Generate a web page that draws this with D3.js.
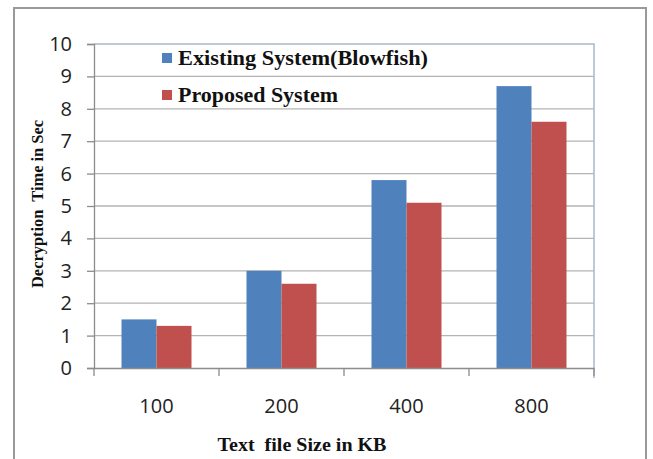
<!DOCTYPE html>
<html><head><meta charset="utf-8">
<script src="https://cdn.jsdelivr.net/npm/d3@7"></script>
<style>body{margin:0;background:#fff}svg{display:block}</style>
</head><body>
<svg id="c" width="653" height="459"></svg>
<script>
const categories = ["100", "200", "400", "800"];
const seriesNames = ["Existing System(Blowfish)", "Proposed System"];
const existing = [1.5, 3.0, 5.8, 8.7];
const proposed = [1.3, 2.6, 5.1, 7.6];
const yTicks = [0,1,2,3,4,5,6,7,8,9,10];
const colors = ["#4F81BD", "#C0504D"];

const svg = d3.select("#c");
const m = {l:94, r:594, t:44, b:368};
const sans = "'Open Sans', Carlito, 'Liberation Sans', sans-serif";
const serif = "'Liberation Serif', 'DejaVu Serif', serif";

// outer frame
svg.append("rect").attr("x",14).attr("y",8).attr("width",632).attr("height",470)
  .attr("fill","#fff").attr("stroke","#9a9a9a").attr("stroke-width",2);

const x = d3.scaleBand().domain(categories).range([m.l, m.r]).paddingInner(0.44).paddingOuter(0.22);
const y = d3.scaleLinear().domain([0,10]).range([m.b, m.t]);
const x1 = d3.scaleBand().domain([0,1]).range([0, x.bandwidth()]);

// gridlines
svg.append("g").selectAll("line").data(yTicks.filter(d=>d>0 && d<10)).join("line")
  .attr("x1", m.l).attr("x2", m.r).attr("y1", d=>y(d)).attr("y2", d=>y(d))
  .attr("stroke","#b4b4b4").attr("stroke-width",1.3);

// plot border top/right
svg.append("path").attr("d",`M${m.l},${m.t}H${m.r}V${m.b+10}`)
  .attr("fill","none").attr("stroke","#a9b8cc").attr("stroke-width",1.5);

// bars
const data = categories.map((c,i)=>({c, v:[existing[i], proposed[i]]}));
const g = svg.append("g");
data.forEach(d=>{
  d.v.forEach((v,j)=>{
    g.append("rect").attr("x", x(d.c)+x1(j)).attr("width", x1.bandwidth())
      .attr("y", y(v)).attr("height", y(0)-y(v)).attr("fill", colors[j]);
  });
});

// y axis
const yAxis = d3.axisLeft(y).tickValues(yTicks).tickSize(7).tickPadding(15);
const ya = svg.append("g").attr("transform",`translate(${m.l},0)`).call(yAxis);
ya.select(".domain").attr("stroke","#8c8c8c").attr("stroke-width",1.3);
ya.selectAll(".tick line").attr("stroke","#8c8c8c").attr("stroke-width",1.3);
ya.selectAll("text").attr("font-family",sans).attr("font-size",20).attr("fill","#222");

// x axis
const xAxis = d3.axisBottom(x).tickSize(0).tickPadding(31);
const xa = svg.append("g").attr("transform",`translate(0,${m.b})`).call(xAxis);
xa.select(".domain").attr("stroke","#8c8c8c").attr("stroke-width",1.3);
xa.selectAll("text").attr("font-family",sans).attr("font-size",20).attr("fill","#222");
// category boundary ticks
const step = (m.r - m.l)/categories.length;
svg.append("g").selectAll("line").data(d3.range(categories.length+1)).join("line")
  .attr("x1", i=>m.l+i*step).attr("x2", i=>m.l+i*step).attr("y1", m.b).attr("y2", m.b+8)
  .attr("stroke","#8c8c8c").attr("stroke-width",1.3);

// legend
const lg = svg.append("g");
const legLen = [250, 160];
seriesNames.forEach((s,i)=>{
  const ly = 65 + i*37;
  lg.append("rect").attr("x",162).attr("y",ly-12).attr("width",10).attr("height",10).attr("fill",colors[i]);
  lg.append("text").attr("x",178).attr("y",ly).text(s)
    .attr("font-family",serif).attr("font-weight","bold")
    .attr("font-size",20).attr("fill","#111")
    .attr("textLength", legLen[i]).attr("lengthAdjust","spacingAndGlyphs");
});

// axis titles
svg.append("text").attr("x",302).attr("y",451).attr("text-anchor","middle")
  .attr("font-family",serif).attr("font-weight","bold").attr("font-size",18)
  .attr("fill","#111").style("white-space","pre")
  .attr("textLength",169).attr("lengthAdjust","spacingAndGlyphs").text("Text  file Size in KB");
svg.append("text").attr("transform","translate(43,204) rotate(-90)").attr("text-anchor","middle")
  .attr("font-family",serif).attr("font-weight","bold").attr("font-size",17.5)
  .attr("fill","#111").style("white-space","pre")
  .attr("textLength",168).attr("lengthAdjust","spacingAndGlyphs").text("Decryption  Time in Sec");
</script>
</body></html>
